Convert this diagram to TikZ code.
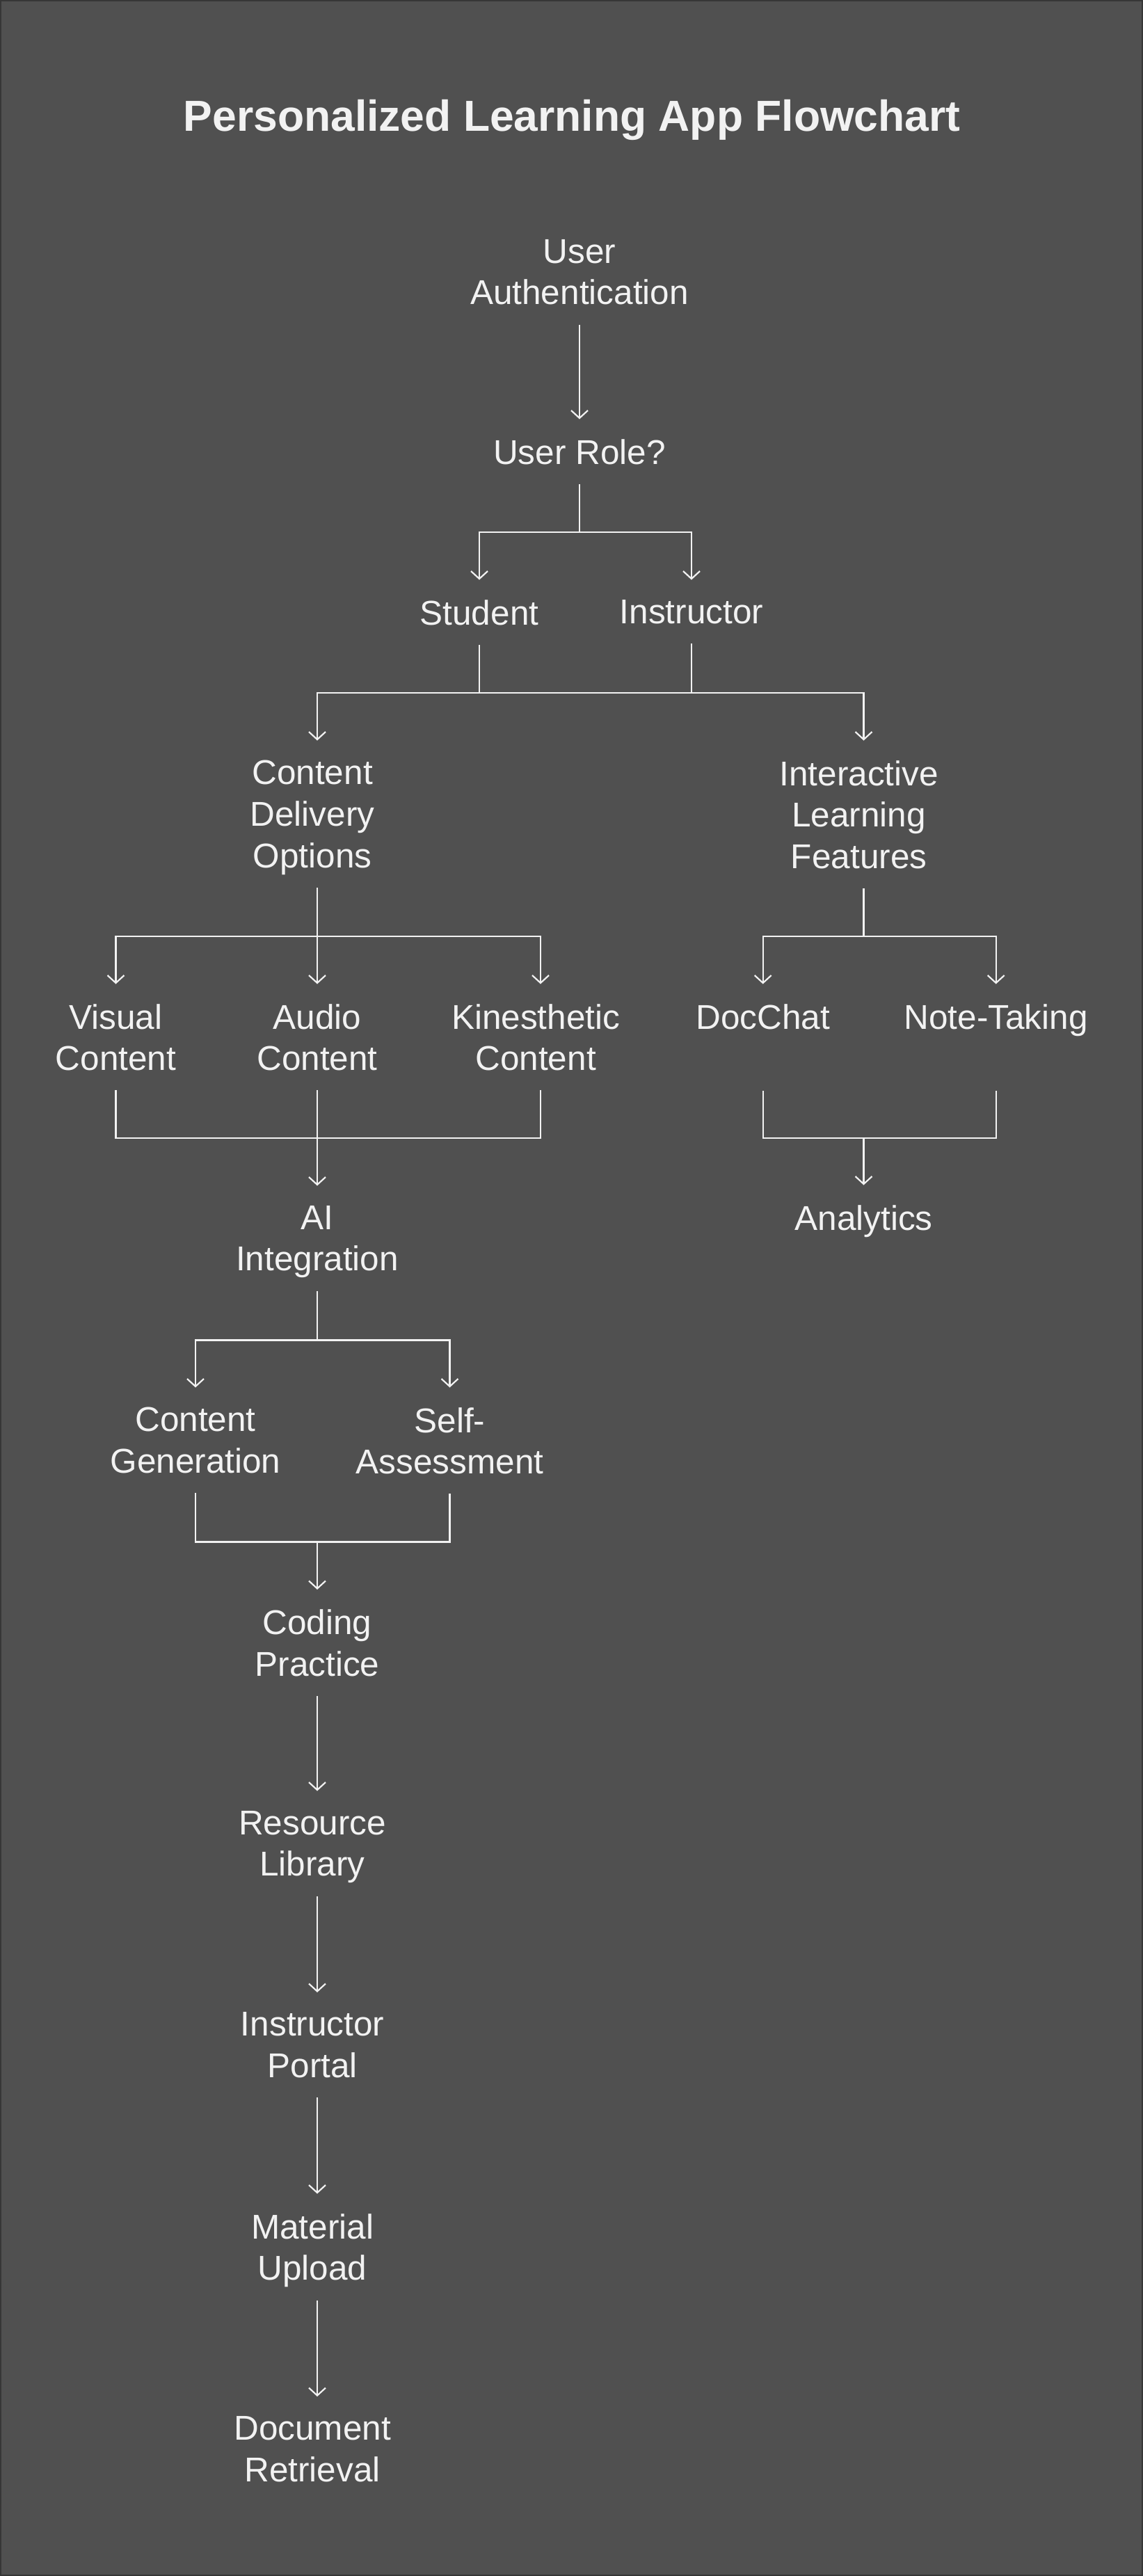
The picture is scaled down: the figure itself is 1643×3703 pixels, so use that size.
\documentclass[tikz,border=0pt]{standalone}
\usepackage{fontspec}
\setmainfont{Liberation Sans}
\usetikzlibrary{arrows.meta,calc}
\definecolor{bgcol}{HTML}{505050}
\definecolor{fgcol}{HTML}{F2F2F2}
\definecolor{framecol}{HTML}{363636}
\newcommand{\tsp}{\hphantom{\ }}
\tikzstyle{txt} = [anchor=north, inner sep=0pt, text=fgcol, align=center, text depth=0pt, font=\fontsize{49.5}{59.7}\selectfont]
\tikzstyle{link} = [draw=fgcol, line width=2.2pt]
\tikzstyle{arrow} = [link, ->, shorten <=28.5pt, shorten >=28.5pt]
\tikzstyle{fork} = [link, <->, shorten <=28.5pt, shorten >=28.5pt]
\tikzstyle{merge} = [link, shorten <=28.5pt, shorten >=28.5pt]
\tikzstyle{stem} = [link, shorten <=28.5pt]

\begin{document}
\begin{tikzpicture}[x=1pt,y=-1pt,>={Straight Barb[length=11pt,width=24pt]}]
\useasboundingbox (0,0) rectangle (1643,3703);
\fill[bgcol] (0,0) rectangle (1643,3703);
\draw[framecol, line width=2pt] (1,1) rectangle (1642,3702);

\node[anchor=base, text=fgcol, font=\fontsize{62.4}{75}\selectfont\bfseries] (title) at (822,188) {Personalized Learning App Flowchart};

\node[txt] (auth) at (833,344) {User\\Authentication};
\node[txt] (role) at (833,631) {User Role?};
\node[txt] (stu) at (689,862) {Student};
\node[txt] (ins) at (994,862) {Instructor};
\node[txt] (cdo) at (456,1093) {Content\tsp\\Delivery\tsp\\Options\tsp};
\node[txt] (ilf) at (1241.5,1093) {Interactive\tsp\\Learning\tsp\\Features\tsp};
\node[txt] (vis) at (166.5,1443) {Visual\\Content};
\node[txt] (aud) at (456,1443) {Audio\\Content};
\node[txt] (kin) at (777,1443) {Kinesthetic\tsp\\Content\tsp};
\node[txt] (dch) at (1096.7,1443) {DocChat};
\node[txt] (nte) at (1431.7,1443) {Note-Taking};
\node[txt] (ana) at (1241.5,1732) {Analytics};
\node[txt] (ai) at (456,1733) {AI\\Integration};
\node[txt] (cgn) at (281,2023) {Content\\Generation};
\node[txt] (sas) at (646.5,2023) {Self-\\Assessment};
\node[txt] (cod) at (456,2313.5) {Coding\\Practice};
\node[txt] (res) at (456,2603) {Resource\tsp\\Library\tsp};
\node[txt] (ipo) at (456,2892.5) {Instructor\tsp\\Portal\tsp};
\node[txt] (mat) at (456,3182) {Material\tsp\\Upload\tsp};
\node[txt] (doc) at (456,3473.5) {Document\tsp\\Retrieval\tsp};

\coordinate (j1) at (833,765);
\coordinate (j2) at (833,996);
\coordinate (j3) at (456,1346);
\coordinate (j4) at (456,1636);
\coordinate (j5) at (1241.5,1346);
\coordinate (j6) at (1241.5,1636);
\coordinate (j7) at (456,1926.5);
\coordinate (j8) at (456,2216.5);

\draw[arrow] (auth.south) -- (role.north);
\draw[stem] (role.south) -- (j1);
\draw[fork] (stu.north) |- (j1) -| (ins.north);

\draw[stem] (stu.south) -- (stu.south |- j2);
\draw[stem] (ins.south) -- (ins.south |- j2);
\draw[fork] (cdo.north) |- (j2) -| (ilf.north);

\draw[fork] (vis.north) |- (j3) -| (kin.north);
\draw[arrow] (cdo.south) -- (aud.north);
\draw[merge] (vis.south) |- (j4) -| (kin.south);
\draw[arrow] (aud.south) -- (ai.north);

\draw[stem] (ilf.south) -- (j5);
\draw[fork] (dch.north) |- (j5) -| (nte.north);
\draw[merge, shorten <=89pt, shorten >=89pt] (dch.south) |- (j6) -| (nte.south);
\draw[arrow, shorten <=0pt] (j6) -- (ana.north);

\draw[stem] (ai.south) -- (j7);
\draw[fork] (cgn.north) |- (j7) -| (sas.north);
\draw[merge] (cgn.south) |- (j8) -| (sas.south);
\draw[arrow, shorten <=0pt] (j8) -- (cod.north);

\foreach \a/\b in {cod/res,res/ipo,ipo/mat,mat/doc}
  \draw[arrow] (\a.south) -- (\b.north);
\end{tikzpicture}
\end{document}
